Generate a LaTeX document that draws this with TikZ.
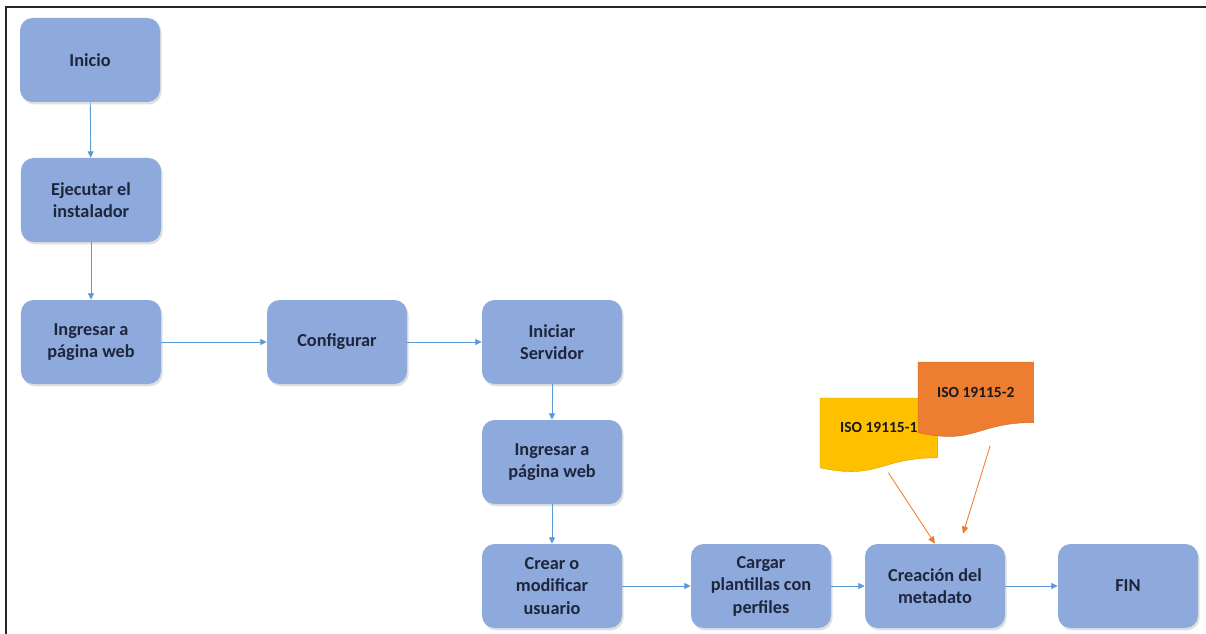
\documentclass[tikz,border=0pt]{standalone}
\usepackage{xcolor}
\usepackage{fontspec}
\setmainfont{Carlito}
\usepackage{tikz}
\usetikzlibrary{arrows.meta, positioning, shadows, calc, backgrounds}

\definecolor{boxblue}{RGB}{142,169,219}
\definecolor{arrblue}{RGB}{91,155,213}
\definecolor{txtnavy}{RGB}{30,38,62}
\definecolor{docyellow}{RGB}{255,192,0}
\definecolor{docorange}{RGB}{237,125,49}

\begin{document}
\begin{tikzpicture}[
  stepbox/.style={rectangle, rounded corners=9pt, fill=boxblue, minimum width=3.5cm, minimum height=2.1cm, align=center, text=txtnavy, font=\fontsize{13}{16}\selectfont\bfseries, drop shadow={opacity=0.25, shadow xshift=0.04cm, shadow yshift=-0.06cm}},
  docbox/.style={rectangle, anchor=north west, align=center, text=black!90, font=\fontsize{11}{13}\selectfont\bfseries},
  fwd/.style={-{Triangle[length=1.6mm, width=1.5mm]}, line width=0.6pt, arrblue},
  iso/.style={-{Triangle[length=1.8mm, width=1.6mm]}, line width=0.6pt, docorange}
]
\useasboundingbox (0,0) rectangle (30.15,-15.85);

% Frame
\draw[line width=2pt, black!85] (0.15,-15.9) |- (30.2,-0.175);

\node[stepbox] (inicio)   at (2.25,-1.5)    {Inicio};
\node[stepbox] (ejecutar) at (2.275,-5.0)   {Ejecutar el\\instalador};
\node[stepbox] (web1)     at (2.275,-8.55)  {Ingresar a\\página web};
\node[stepbox] (config)   at (8.425,-8.55)  {Configurar};
\node[stepbox] (servidor) at (13.8,-8.55)   {Iniciar\\Servidor};
\node[stepbox] (web2)     at (13.8,-11.55)  {Ingresar a\\página web};
\node[stepbox] (usuario)  at (13.8,-14.65)  {Crear o\\modificar\\usuario};
\node[stepbox] (cargar)   at (19.025,-14.65){Cargar\\plantillas con\\perfiles};
\node[stepbox] (metadato) at (23.375,-14.65){Creación del\\metadato};
\node[stepbox] (fin)      at (28.2,-14.65)  {FIN};

% Norm documents
\node[docbox, minimum width=2.925cm, minimum height=1.48cm] (iso1) at (20.5,-9.95) {ISO 19115-1};
\node[docbox, minimum width=2.875cm, minimum height=1.5cm] (iso2) at (22.95,-9.05) {ISO 19115-2};
\begin{scope}[on background layer]
\fill[docyellow, draw=docyellow!85!black, line width=0.3pt]
  (iso1.north west) -- (iso1.north east) -- (iso1.south east)
  .. controls (iso1.south) and ($(iso1.south)+(0,-0.565)$) .. ($(iso1.south west)+(0,-0.25)$) -- cycle;
\fill[docorange, draw=docorange!85!black, line width=0.3pt]
  (iso2.north west) -- (iso2.north east) -- (iso2.south east)
  .. controls (iso2.south) and ($(iso2.south)+(0,-0.57)$) .. ($(iso2.south west)+(0,-0.25)$) -- cycle;
\end{scope}

% Main flow
\draw[fwd] (inicio)   -- (ejecutar);
\draw[fwd] (ejecutar) -- (web1);
\draw[fwd] (web1)     -- (config);
\draw[fwd] (config)   -- (servidor);
\draw[fwd] (servidor) -- (web2);
\draw[fwd] (web2)     -- (usuario);
\draw[fwd] (usuario)  -- (cargar);
\draw[fwd] (cargar)   -- (metadato);
\draw[fwd] (metadato) -- (fin);

% Norms into the metadata
\draw[iso] ($(iso1.south)+(0.24,-0.375)$) -- (metadato.north);
\draw[iso] ($(iso2.south)+(0.36,-0.575)$) -- ($(metadato.north)+(0.7,0.25)$);

\end{tikzpicture}
\end{document}
